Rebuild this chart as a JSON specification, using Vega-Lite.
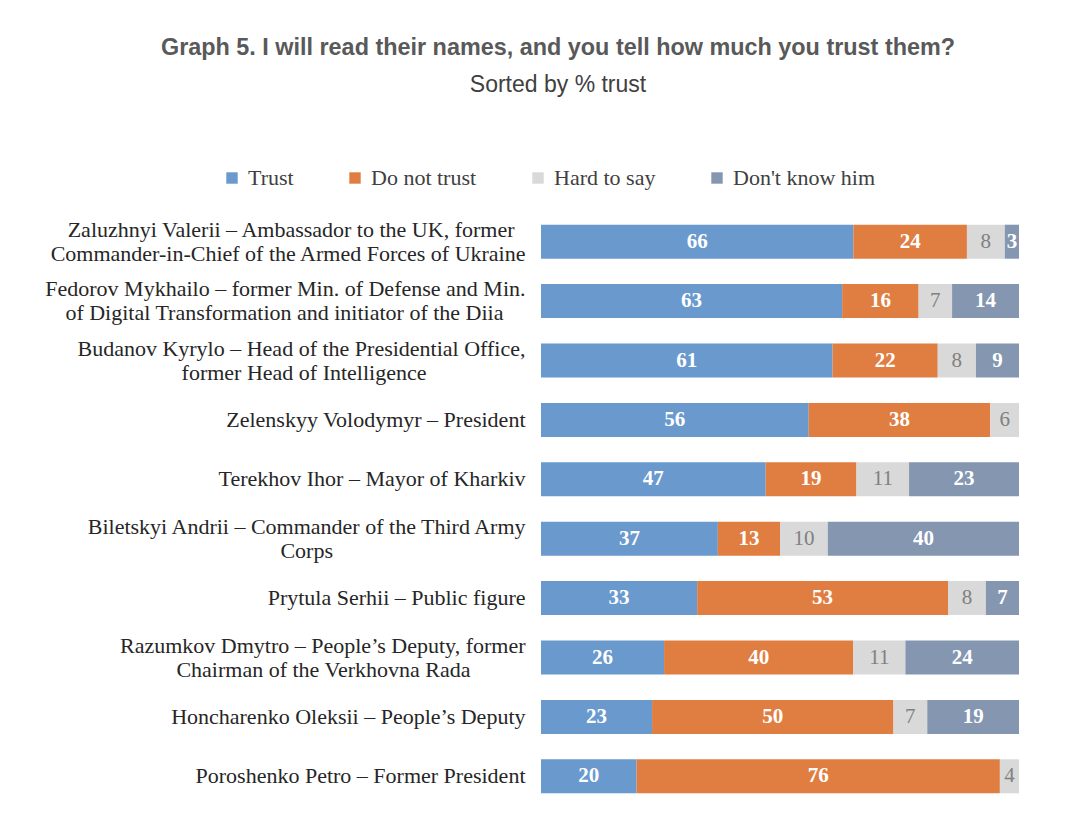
{
  "$schema": "https://vega.github.io/schema/vega-lite/v6.json",
  "width": 478,
  "height": 594,
  "autosize": {"type": "none"},
  "padding": {"left": 541, "top": 212, "right": 61, "bottom": 12},
  "background": "white",
  "config": {"view": {"stroke": null}},
  "title": {
    "text": "Graph 5. I will read their names, and you tell how much you trust them?",
    "subtitle": "Sorted by % trust",
    "anchor": "middle",
    "frame": "group",
    "dx": -222,
    "offset": 69,
    "font": "Liberation Sans",
    "fontSize": 23.4,
    "fontWeight": "bold",
    "color": "#595959",
    "subtitleFont": "Liberation Sans",
    "subtitleFontSize": 23,
    "subtitleColor": "#404040",
    "subtitlePadding": 14
  },
  "data": {
    "values": [
      {"person": "Zaluzhnyi Valerii – Ambassador to the UK, former|Commander-in-Chief of the Armed Forces of Ukraine", "answer": "Trust", "k": 1, "value": 66},
      {"person": "Zaluzhnyi Valerii – Ambassador to the UK, former|Commander-in-Chief of the Armed Forces of Ukraine", "answer": "Do not trust", "k": 2, "value": 24},
      {"person": "Zaluzhnyi Valerii – Ambassador to the UK, former|Commander-in-Chief of the Armed Forces of Ukraine", "answer": "Hard to say", "k": 3, "value": 8},
      {"person": "Zaluzhnyi Valerii – Ambassador to the UK, former|Commander-in-Chief of the Armed Forces of Ukraine", "answer": "Don't know him", "k": 4, "value": 3},
      {"person": "Fedorov Mykhailo – former Min. of Defense and Min.|of Digital Transformation and initiator of the Diia", "answer": "Trust", "k": 1, "value": 63},
      {"person": "Fedorov Mykhailo – former Min. of Defense and Min.|of Digital Transformation and initiator of the Diia", "answer": "Do not trust", "k": 2, "value": 16},
      {"person": "Fedorov Mykhailo – former Min. of Defense and Min.|of Digital Transformation and initiator of the Diia", "answer": "Hard to say", "k": 3, "value": 7},
      {"person": "Fedorov Mykhailo – former Min. of Defense and Min.|of Digital Transformation and initiator of the Diia", "answer": "Don't know him", "k": 4, "value": 14},
      {"person": "Budanov Kyrylo – Head of the Presidential Office,|former Head of Intelligence", "answer": "Trust", "k": 1, "value": 61},
      {"person": "Budanov Kyrylo – Head of the Presidential Office,|former Head of Intelligence", "answer": "Do not trust", "k": 2, "value": 22},
      {"person": "Budanov Kyrylo – Head of the Presidential Office,|former Head of Intelligence", "answer": "Hard to say", "k": 3, "value": 8},
      {"person": "Budanov Kyrylo – Head of the Presidential Office,|former Head of Intelligence", "answer": "Don't know him", "k": 4, "value": 9},
      {"person": "Zelenskyy Volodymyr – President", "answer": "Trust", "k": 1, "value": 56},
      {"person": "Zelenskyy Volodymyr – President", "answer": "Do not trust", "k": 2, "value": 38},
      {"person": "Zelenskyy Volodymyr – President", "answer": "Hard to say", "k": 3, "value": 6},
      {"person": "Zelenskyy Volodymyr – President", "answer": "Don't know him", "k": 4, "value": 0},
      {"person": "Terekhov Ihor – Mayor of Kharkiv", "answer": "Trust", "k": 1, "value": 47},
      {"person": "Terekhov Ihor – Mayor of Kharkiv", "answer": "Do not trust", "k": 2, "value": 19},
      {"person": "Terekhov Ihor – Mayor of Kharkiv", "answer": "Hard to say", "k": 3, "value": 11},
      {"person": "Terekhov Ihor – Mayor of Kharkiv", "answer": "Don't know him", "k": 4, "value": 23},
      {"person": "Biletskyi Andrii – Commander of the Third Army|Corps", "answer": "Trust", "k": 1, "value": 37},
      {"person": "Biletskyi Andrii – Commander of the Third Army|Corps", "answer": "Do not trust", "k": 2, "value": 13},
      {"person": "Biletskyi Andrii – Commander of the Third Army|Corps", "answer": "Hard to say", "k": 3, "value": 10},
      {"person": "Biletskyi Andrii – Commander of the Third Army|Corps", "answer": "Don't know him", "k": 4, "value": 40},
      {"person": "Prytula Serhii – Public figure", "answer": "Trust", "k": 1, "value": 33},
      {"person": "Prytula Serhii – Public figure", "answer": "Do not trust", "k": 2, "value": 53},
      {"person": "Prytula Serhii – Public figure", "answer": "Hard to say", "k": 3, "value": 8},
      {"person": "Prytula Serhii – Public figure", "answer": "Don't know him", "k": 4, "value": 7},
      {"person": "Razumkov Dmytro – People’s Deputy, former|Chairman of the Verkhovna Rada", "answer": "Trust", "k": 1, "value": 26},
      {"person": "Razumkov Dmytro – People’s Deputy, former|Chairman of the Verkhovna Rada", "answer": "Do not trust", "k": 2, "value": 40},
      {"person": "Razumkov Dmytro – People’s Deputy, former|Chairman of the Verkhovna Rada", "answer": "Hard to say", "k": 3, "value": 11},
      {"person": "Razumkov Dmytro – People’s Deputy, former|Chairman of the Verkhovna Rada", "answer": "Don't know him", "k": 4, "value": 24},
      {"person": "Honcharenko Oleksii – People’s Deputy", "answer": "Trust", "k": 1, "value": 23},
      {"person": "Honcharenko Oleksii – People’s Deputy", "answer": "Do not trust", "k": 2, "value": 50},
      {"person": "Honcharenko Oleksii – People’s Deputy", "answer": "Hard to say", "k": 3, "value": 7},
      {"person": "Honcharenko Oleksii – People’s Deputy", "answer": "Don't know him", "k": 4, "value": 19},
      {"person": "Poroshenko Petro – Former President", "answer": "Trust", "k": 1, "value": 20},
      {"person": "Poroshenko Petro – Former President", "answer": "Do not trust", "k": 2, "value": 76},
      {"person": "Poroshenko Petro – Former President", "answer": "Hard to say", "k": 3, "value": 4},
      {"person": "Poroshenko Petro – Former President", "answer": "Don't know him", "k": 4, "value": 0}
    ]
  },
  "transform": [
    {"stack": "value", "groupby": ["person"], "sort": [{"field": "k", "order": "ascending"}], "offset": "normalize", "as": ["x0", "x1"]},
    {"calculate": "(datum.x0 + datum.x1) / 2", "as": "mid"}
  ],
  "encoding": {
    "y": {
      "field": "person",
      "type": "nominal",
      "sort": null,
      "title": null,
      "scale": {"paddingInner": 0, "paddingOuter": 0},
      "axis": {
        "domain": false,
        "ticks": false,
        "labelPadding": 16,
        "labelFont": "Liberation Serif",
        "labelFontSize": 22,
        "labelColor": "#262626",
        "labelLimit": 700,
        "labelLineHeight": 24,
        "labelOffset": {"condition": {"test": "indexof(datum.value, '|') >= 0", "value": -12}, "value": 0},
        "labelExpr": "indexof(datum.label, '|') < 0 ? datum.label : [pad(split(datum.label, '|')[0], length(split(datum.label, '|')[0]) + (indexof(datum.label, 'Zaluzhnyi') == 0 ? 2 : 0), '\u00a0') + '\u200b', pad(split(datum.label, '|')[1], length(split(datum.label, '|')[1]) + (indexof(datum.label, 'Fedorov') == 0 ? 4 : indexof(datum.label, 'Budanov') == 0 ? 18 : indexof(datum.label, 'Biletskyi') == 0 ? 35 : indexof(datum.label, 'Razumkov') == 0 ? 10 : 0), '\u00a0') + '\u200b']"
      }
    }
  },
  "layer": [
    {
      "mark": {"type": "bar", "size": 34},
      "encoding": {
        "x": {"field": "x0", "type": "quantitative", "scale": {"domain": [0, 1], "nice": false}, "axis": null},
        "x2": {"field": "x1"},
        "color": {
          "field": "answer",
          "type": "nominal",
          "scale": {
            "domain": ["Trust", "Do not trust", "Hard to say", "Don't know him"],
            "range": ["#6999CD", "#E07E41", "#D9D9D9", "#8496B0"]
          },
          "legend": {
            "orient": "none",
            "direction": "horizontal",
            "legendX": -320,
            "legendY": -45,
            "title": null,
            "symbolType": "square",
            "symbolSize": 130,
            "symbolStrokeWidth": 0,
            "labelFont": "Liberation Serif",
            "labelFontSize": 22,
            "labelColor": "#404040",
            "labelOffset": 5,
            "columnPadding": 50
          }
        }
      }
    },
    {
      "transform": [{"filter": "datum.value > 0 && datum.answer != 'Hard to say'"}],
      "mark": {"type": "text", "font": "Liberation Serif", "fontSize": 21, "fontWeight": "bold", "color": "white", "baseline": "middle"},
      "encoding": {
        "x": {"field": "mid", "type": "quantitative"},
        "text": {"field": "value", "type": "quantitative"}
      }
    },
    {
      "transform": [{"filter": "datum.value > 0 && datum.answer == 'Hard to say'"}],
      "mark": {"type": "text", "font": "Liberation Serif", "fontSize": 21, "color": "#808080", "baseline": "middle"},
      "encoding": {
        "x": {"field": "mid", "type": "quantitative"},
        "text": {"field": "value", "type": "quantitative"}
      }
    }
  ]
}
